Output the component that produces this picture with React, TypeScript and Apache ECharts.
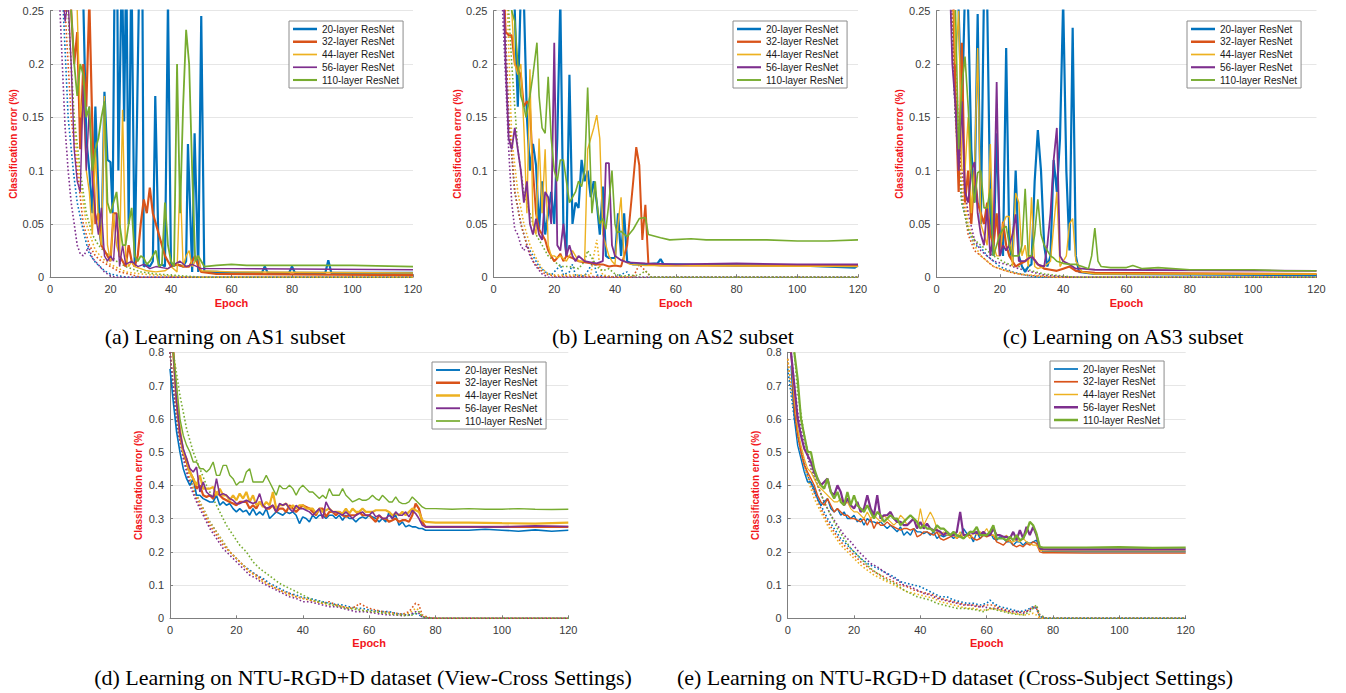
import React, { useEffect, useRef } from "react";
import * as echarts from "echarts";

type P = [number, number][];

const COLORS = ["#0072BD", "#D95319", "#EDB120", "#7E2F8E", "#77AC30"];
const LAYERS = ["20-layer ResNet", "32-layer ResNet", "44-layer ResNet", "56-layer ResNet", "110-layer ResNet"];
const X_TICKS = [0, 20, 40, 60, 80, 100, 120];

// ---------- (a) AS1 ----------
const aTest20: P = [[0,0.6],[5,0.45],[8,0.3],[10,0.28],[11,0.26],[12,0.13],[13,0.1],[14,0.06],[15,0.16],[15.5,0.12],[16.5,0.04],[17,0.03],[18,0.174],[19,0.11],[20,0.108],[20.7,0.06],[21.4,0.3],[22,0.4],[22.6,0.1],[23.8,0.3],[24.5,0.146],[25.2,0.3],[26,0.05],[26.9,0.3],[28,0.01],[29.6,0.3],[30.5,0.3],[31,0.01],[32,0.012],[33,0.01],[34,0.015],[34.8,0.17],[36,0.01],[37,0.012],[38,0.01],[39,0.26],[40,0.01],[42,0.012],[44,0.01],[45,0.015],[45.6,0.125],[47,0.005],[47.8,0.135],[49,0.005],[50,0.245],[51,0.005],[55,0.005],[60,0.004],[70,0.004],[71,0.01],[72,0.004],[79,0.004],[80,0.01],[81,0.004],[91,0.004],[92,0.016],[93,0.004],[100,0.004],[110,0.004],[120,0.004]];
const aTest32: P = [[0,0.6],[5,0.35],[7,0.25],[8,0.2],[9,0.23],[10,0.12],[11,0.2],[12,0.16],[13,0.26],[14,0.14],[15,0.05],[16,0.06],[17,0.03],[18,0.025],[19,0.02],[20,0.015],[21,0.06],[22,0.06],[23,0.02],[24,0.015],[25,0.01],[26,0.03],[27,0.015],[28,0.01],[29,0.02],[30,0.05],[31,0.073],[32,0.06],[33,0.084],[34,0.06],[35,0.05],[36,0.04],[37,0.03],[38,0.02],[39,0.015],[40,0.01],[42,0.012],[44,0.01],[46,0.01],[48,0.02],[49,0.01],[50,0.005],[55,0.003],[120,0.002]];
const aTest44: P = [[0,0.6],[6,0.3],[7,0.25],[8,0.3],[9,0.25],[10,0.15],[11,0.17],[12,0.1],[13,0.08],[14,0.04],[15,0.12],[16,0.05],[17,0.03],[18,0.17],[19,0.03],[20,0.015],[21,0.06],[22,0.03],[23,0.02],[24,0.157],[25,0.02],[26,0.01],[27,0.015],[28,0.01],[30,0.008],[32,0.006],[35,0.005],[38,0.006],[40,0.01],[42,0.005],[43,0.095],[44,0.01],[45,0.02],[46,0.025],[47,0.01],[49,0.02],[50,0.006],[60,0.005],[120,0.004]];
const aTest56: P = [[0,0.6],[4,0.27],[5,0.24],[6,0.26],[7,0.2],[8,0.12],[9,0.09],[10,0.08],[11,0.18],[12,0.1],[13,0.16],[14,0.09],[15,0.06],[16,0.04],[17,0.065],[18,0.02],[19,0.015],[20,0.02],[21,0.015],[22,0.06],[23,0.01],[24,0.03],[25,0.012],[27,0.015],[29,0.01],[31,0.012],[33,0.008],[35,0.01],[37,0.009],[39,0.008],[41,0.012],[43,0.015],[45,0.01],[47,0.012],[50,0.008],[60,0.008],[120,0.007]];
const aTest110: P = [[0,0.6],[6,0.3],[8,0.2],[9,0.17],[10,0.2],[11,0.19],[12,0.15],[13,0.16],[14,0.1],[15,0.12],[16,0.13],[17,0.15],[18,0.165],[19,0.07],[20,0.06],[21,0.07],[22,0.08],[23,0.05],[24,0.03],[25,0.03],[26,0.05],[27,0.065],[28,0.02],[29,0.015],[30,0.02],[31,0.018],[32,0.012],[33,0.015],[34,0.02],[35,0.025],[36,0.01],[37,0.012],[38,0.07],[39,0.03],[40,0.015],[41,0.01],[42,0.2],[43,0.06],[44,0.16],[45,0.232],[46,0.2],[47,0.1],[48,0.015],[49,0.02],[50,0.015],[51,0.01],[55,0.011],[60,0.012],[65,0.011],[70,0.011],[80,0.011],[100,0.011],[120,0.01]];
const aTrain20: P = [[3,0.5],[4.4,0.25],[6,0.15],[7.7,0.1],[9,0.07],[10.5,0.05],[12,0.032],[13,0.022],[15,0.014],[16.5,0.01],[18,0.006],[20,0.003],[25,0],[120,0]];
const aTrain32: P = [[3,0.5],[5,0.25],[7,0.15],[9,0.1],[11,0.05],[13,0.03],[15,0.02],[17,0.015],[20,0.01],[23,0.005],[26,0.003],[30,0],[120,0]];
const aTrain44: P = [[4,0.5],[6,0.25],[8,0.14],[9.5,0.1],[12,0.05],[15,0.025],[18,0.016],[20,0.012],[25,0.005],[30,0.003],[35,0.002],[45,0],[120,0]];
const aTrain56: P = [[2,0.5],[3.3,0.25],[5,0.14],[6,0.1],[7,0.07],[8,0.05],[9,0.03],[10,0.022],[11,0.02],[12,0.024],[12.7,0.029],[14,0.018],[16.5,0.01],[18,0.005],[20,0.001],[22,0],[120,0]];
const aTrain110: P = [[4,0.5],[6,0.25],[8,0.15],[10,0.1],[12,0.06],[14,0.04],[16,0.03],[18,0.024],[20,0.02],[22,0.015],[25,0.01],[30,0.005],[35,0.003],[40,0.002],[50,0],[120,0]];

// ---------- (b) AS2 ----------
const bTest20: P = [[0,0.6],[5,0.35],[7,0.25],[8,0.16],[9,0.27],[10,0.26],[11,0.15],[12,0.1],[13,0.125],[14,0.105],[15,0.045],[16,0.09],[17,0.04],[18,0.06],[19,0.08],[20,0.05],[21,0.13],[22,0.26],[23,0.05],[24,0.02],[25,0.19],[26,0.05],[27,0.07],[28,0.065],[29,0.11],[30,0.09],[31,0.1],[32,0.075],[33,0.09],[34,0.07],[35,0.04],[36,0.085],[37,0.02],[38,0.018],[40,0.018],[41,0.06],[42,0.02],[43,0.06],[44,0.015],[46,0.012],[50,0.012],[54,0.013],[55,0.017],[56,0.012],[60,0.012],[80,0.011],[100,0.011],[119,0.009],[120,0.011]];
const bTest32: P = [[0,0.6],[3,0.3],[4,0.23],[5,0.227],[6,0.227],[7,0.2],[8,0.195],[9,0.19],[10,0.16],[11,0.165],[12,0.16],[13,0.1],[14,0.06],[15,0.045],[16,0.04],[17,0.035],[18,0.025],[19,0.02],[20,0.015],[21,0.018],[22,0.022],[23,0.015],[24,0.02],[26,0.018],[28,0.015],[30,0.014],[32,0.013],[34,0.012],[36,0.012],[38,0.01],[40,0.011],[42,0.01],[44,0.03],[45,0.06],[46,0.09],[47,0.122],[48,0.105],[49,0.035],[50,0.068],[51,0.012],[55,0.011],[120,0.011]];
const bTest44: P = [[0,0.6],[4,0.3],[6,0.25],[7,0.2],[8,0.19],[9,0.2],[10,0.14],[11,0.06],[12,0.195],[13,0.05],[14,0.04],[15,0.13],[16,0.06],[17,0.12],[18,0.03],[19,0.02],[20,0.02],[21,0.018],[22,0.02],[24,0.015],[26,0.025],[28,0.015],[30,0.015],[31,0.12],[32,0.13],[33,0.14],[34,0.152],[35,0.13],[36,0.04],[37,0.03],[38,0.02],[39,0.015],[40,0.012],[41,0.05],[42,0.075],[43,0.015],[45,0.012],[50,0.011],[60,0.011],[120,0.01]];
const bTest56: P = [[0,0.6],[3,0.3],[4,0.2],[5,0.13],[6,0.12],[7,0.14],[8,0.12],[9,0.1],[10,0.07],[11,0.09],[12,0.05],[13,0.04],[14,0.055],[15,0.04],[16,0.035],[17,0.08],[18,0.075],[19,0.05],[20,0.22],[21,0.03],[22,0.025],[23,0.05],[24,0.02],[25,0.03],[26,0.02],[27,0.015],[28,0.02],[30,0.015],[32,0.014],[34,0.013],[36,0.015],[37,0.107],[38,0.107],[39,0.03],[40,0.02],[42,0.016],[44,0.014],[50,0.013],[60,0.012],[80,0.013],[100,0.012],[120,0.012]];
const bTest110: P = [[0,0.6],[5,0.3],[6,0.25],[7,0.24],[8,0.2],[9,0.17],[10,0.16],[10.7,0.15],[12,0.17],[13,0.19],[14.3,0.22],[15,0.17],[16,0.14],[17,0.135],[18,0.188],[19,0.13],[20,0.1],[21,0.09],[22,0.11],[23,0.11],[24,0.09],[25,0.07],[26,0.075],[27,0.08],[28,0.09],[29,0.085],[30,0.1],[31,0.178],[32.4,0.06],[33.5,0.09],[34,0.07],[35,0.05],[36,0.055],[37,0.045],[38,0.07],[39,0.1],[40,0.05],[40.6,0.042],[42,0.043],[44,0.038],[46,0.045],[48,0.055],[50,0.056],[51,0.04],[55,0.037],[58,0.035],[65,0.036],[70,0.035],[80,0.035],[90,0.035],[100,0.034],[110,0.034],[120,0.035]];
const bTrain20: P = [[0,0.6],[3,0.3],[5,0.15],[7,0.08],[9,0.05],[11,0.03],[13,0.02],[15,0.01],[17,0.005],[19,0.002],[21,0.008],[22,0.012],[23,0.002],[25,0.005],[26,0.012],[27,0.002],[30,0.001],[33,0.015],[34,0.002],[40,0],[44,0.005],[45,0],[120,0]];
const bTrain32: P = [[0,0.6],[3,0.3],[5,0.15],[7,0.08],[9,0.05],[11,0.03],[13,0.015],[15,0.008],[17,0.003],[20,0.001],[46,0],[48,0.012],[50,0.006],[52,0],[120,0]];
const bTrain44: P = [[0,0.6],[4,0.3],[6,0.13],[8,0.08],[10,0.05],[12,0.03],[14,0.018],[16,0.008],[18,0.003],[20,0.002],[32,0.002],[33,0.02],[34,0.035],[35,0.01],[36,0.002],[40,0],[120,0]];
const bTrain56: P = [[0,0.6],[3,0.25],[5,0.12],[6,0.07],[7,0.045],[8,0.04],[9,0.03],[10,0.025],[11,0.03],[12,0.02],[14,0.01],[16,0.003],[18,0],[120,0]];
const bTrain110: P = [[0,0.6],[4,0.3],[6,0.2],[8,0.12],[10,0.08],[12,0.06],[14,0.04],[16,0.03],[18,0.02],[20,0.015],[22,0.01],[25,0.01],[28,0.008],[30,0.015],[31,0.025],[32,0.02],[34,0.01],[36,0.006],[38,0.008],[40,0.003],[42,0.001],[48,0.002],[50,0.006],[52,0],[120,0]];

// ---------- (c) AS3 ----------
const cTest20: P = [[0,0.6],[6,0.3],[7,0.25],[8,0.15],[9,0.27],[10,0.25],[11,0.12],[12,0.07],[13,0.247],[14,0.05],[15,0.27],[16,0.26],[17,0.06],[18,0.02],[19,0.135],[20,0.04],[21,0.02],[22,0.215],[23,0.03],[24,0.015],[25,0.1],[26,0.02],[27,0.01],[28,0.005],[29,0.01],[30,0.012],[31,0.09],[32,0.138],[33,0.1],[34,0.03],[35,0.01],[36,0.02],[37,0.11],[38,0.08],[39,0.13],[40,0.26],[41,0.1],[42,0.025],[43,0.234],[44,0.02],[45,0.005],[50,0.003],[120,0.002]];
const cTest32: P = [[0,0.6],[5,0.3],[6,0.17],[7,0.08],[8,0.22],[9,0.07],[10,0.1],[11,0.05],[12,0.1],[13,0.07],[14,0.06],[15,0.05],[16,0.07],[17,0.04],[18,0.03],[19,0.06],[20,0.02],[21,0.052],[22,0.03],[23,0.02],[24,0.015],[25,0.01],[26,0.012],[28,0.015],[30,0.02],[32,0.012],[34,0.008],[36,0.007],[38,0.006],[40,0.008],[42,0.01],[44,0.006],[46,0.005],[50,0.004],[120,0.003]];
const cTest44: P = [[0,0.6],[5,0.3],[6,0.2],[7,0.25],[8,0.1],[9,0.1],[10,0.15],[11,0.06],[12,0.1],[13,0.215],[14,0.05],[15,0.04],[16,0.03],[17,0.125],[18,0.03],[19,0.02],[20,0.02],[21,0.05],[22,0.057],[23,0.057],[24,0.01],[25,0.079],[26,0.07],[27,0.02],[28,0.03],[29,0.01],[30,0.075],[31,0.01],[32,0.008],[34,0.01],[36,0.015],[38,0.08],[39,0.01],[41,0.02],[42,0.05],[43,0.055],[44,0.015],[46,0.005],[50,0.003],[120,0.003]];
const cTest56: P = [[0,0.6],[4,0.3],[5,0.2],[6,0.16],[7,0.1],[8,0.165],[9,0.08],[10,0.07],[11,0.1],[12,0.108],[13,0.06],[14,0.04],[15,0.03],[16,0.065],[17,0.02],[18,0.04],[19,0.183],[20,0.02],[21,0.03],[22,0.025],[23,0.03],[24,0.04],[25,0.059],[26,0.015],[28,0.015],[30,0.02],[32,0.012],[34,0.01],[35,0.03],[36,0.06],[37,0.11],[38,0.14],[39,0.02],[40,0.015],[42,0.012],[44,0.008],[46,0.008],[50,0.007],[120,0.006]];
const cTest110: P = [[0,0.6],[5,0.3],[6,0.25],[7,0.12],[8,0.18],[9,0.207],[10,0.16],[11,0.1],[12,0.07],[13,0.098],[14,0.1],[15,0.065],[16,0.065],[17,0.083],[18,0.02],[19,0.03],[20,0.04],[21,0.045],[22,0.048],[23,0.03],[24,0.02],[25,0.02],[26,0.02],[27,0.03],[28,0.083],[29,0.02],[30,0.02],[31,0.04],[32,0.073],[33,0.04],[34,0.03],[35,0.025],[36,0.02],[37,0.018],[38,0.015],[40,0.013],[42,0.012],[44,0.012],[46,0.01],[48,0.008],[49,0.02],[50,0.046],[51,0.015],[52,0.01],[55,0.009],[60,0.009],[62,0.011],[65,0.008],[70,0.009],[80,0.007],[90,0.007],[100,0.007],[110,0.006],[120,0.006]];
const cTrain20: P = [[0,0.6],[4,0.3],[5,0.22],[6,0.15],[7,0.1],[8,0.07],[10,0.045],[12,0.03],[14,0.028],[16,0.02],[18,0.015],[20,0.01],[24,0.005],[28,0.002],[32,0],[120,0]];
const cTrain32: P = [[0,0.6],[4,0.3],[6,0.18],[8,0.08],[10,0.04],[12,0.025],[14,0.02],[16,0.015],[18,0.01],[20,0.008],[24,0.004],[28,0.002],[32,0.001],[36,0],[120,0]];
const cTrain44: P = [[0,0.6],[4,0.3],[6,0.2],[8,0.09],[10,0.05],[12,0.03],[14,0.02],[16,0.015],[18,0.01],[22,0.006],[26,0.003],[30,0.002],[34,0.001],[38,0],[120,0]];
const cTrain56: P = [[0,0.6],[4,0.3],[6,0.15],[8,0.1],[10,0.06],[12,0.035],[14,0.025],[16,0.02],[18,0.015],[22,0.012],[26,0.008],[30,0.005],[34,0.002],[38,0.001],[42,0],[120,0]];
const cTrain110: P = [[0,0.6],[4,0.3],[6,0.15],[8,0.07],[10,0.045],[12,0.035],[14,0.03],[16,0.025],[18,0.02],[22,0.013],[26,0.01],[30,0.006],[34,0.003],[40,0.001],[44,0],[120,0]];

// ---------- (d) NTU View-Cross ----------
const dTest20: P = [[0,0.75],[1,0.65],[2,0.56],[3,0.5],[4,0.45],[5,0.42],[6,0.4],[7,0.42],[8,0.37],[9,0.37],[10,0.36],[11,0.355],[12,0.35],[13,0.35],[14,0.37],[15,0.34],[16,0.35],[17,0.34],[18,0.345],[19,0.33],[20,0.32],[21,0.33],[22,0.32],[23,0.325],[24,0.31],[25,0.33],[26,0.31],[27,0.32],[28,0.31],[29,0.33],[30,0.3],[31,0.31],[32,0.32],[33,0.315],[34,0.31],[35,0.32],[36,0.315],[37,0.32],[38,0.31],[39,0.285],[40,0.305],[41,0.3],[42,0.29],[43,0.31],[44,0.3],[45,0.31],[46,0.31],[47,0.3],[48,0.31],[49,0.31],[50,0.3],[51,0.31],[52,0.295],[53,0.31],[54,0.3],[55,0.3],[56,0.29],[57,0.3],[58,0.305],[59,0.3],[60,0.31],[61,0.305],[62,0.3],[63,0.29],[64,0.3],[65,0.29],[66,0.32],[67,0.3],[68,0.31],[69,0.28],[70,0.29],[71,0.275],[72,0.28],[73,0.275],[74,0.275],[75,0.27],[76,0.27],[77,0.265],[80,0.265],[85,0.265],[90,0.265],[95,0.268],[100,0.265],[105,0.262],[110,0.266],[115,0.262],[120,0.265]];
const dTest32: P = [[1,0.8],[2,0.65],[3,0.55],[4,0.5],[5,0.47],[6,0.44],[7,0.42],[8,0.39],[9,0.4],[10,0.37],[11,0.365],[12,0.37],[13,0.36],[14,0.38],[15,0.37],[16,0.36],[17,0.355],[18,0.35],[19,0.345],[20,0.34],[21,0.35],[22,0.35],[23,0.35],[24,0.33],[25,0.34],[26,0.33],[27,0.35],[28,0.34],[29,0.33],[30,0.33],[31,0.34],[32,0.32],[33,0.33],[34,0.33],[35,0.32],[36,0.34],[37,0.33],[38,0.32],[39,0.33],[40,0.34],[41,0.335],[42,0.33],[43,0.32],[44,0.31],[45,0.33],[46,0.33],[47,0.305],[48,0.32],[49,0.32],[50,0.31],[51,0.32],[52,0.31],[53,0.305],[54,0.31],[55,0.31],[56,0.31],[57,0.32],[58,0.31],[59,0.31],[60,0.31],[61,0.3],[62,0.29],[63,0.31],[64,0.3],[65,0.3],[66,0.29],[67,0.295],[68,0.3],[69,0.29],[70,0.295],[71,0.295],[72,0.29],[73,0.31],[74,0.345],[75,0.33],[76,0.29],[77,0.275],[80,0.275],[90,0.275],[100,0.275],[110,0.275],[120,0.275]];
const dTest44: P = [[1,0.8],[2,0.67],[3,0.57],[4,0.5],[5,0.48],[6,0.44],[7,0.42],[8,0.4],[9,0.43],[10,0.39],[11,0.39],[12,0.39],[13,0.395],[14,0.37],[15,0.39],[16,0.37],[17,0.37],[18,0.355],[19,0.37],[20,0.355],[21,0.375],[22,0.36],[23,0.38],[24,0.35],[25,0.37],[26,0.34],[27,0.35],[28,0.335],[29,0.35],[30,0.34],[31,0.38],[32,0.33],[33,0.34],[34,0.34],[35,0.345],[36,0.33],[37,0.34],[38,0.33],[39,0.34],[40,0.34],[41,0.33],[42,0.33],[43,0.33],[44,0.315],[45,0.33],[46,0.32],[47,0.325],[48,0.33],[49,0.32],[50,0.32],[51,0.32],[52,0.315],[53,0.33],[54,0.315],[55,0.33],[56,0.32],[57,0.32],[58,0.33],[59,0.32],[60,0.32],[61,0.32],[62,0.325],[63,0.325],[64,0.325],[65,0.325],[66,0.32],[67,0.31],[68,0.315],[69,0.31],[70,0.32],[71,0.31],[72,0.32],[73,0.33],[74,0.325],[75,0.32],[76,0.295],[77,0.29],[80,0.288],[90,0.288],[100,0.286],[110,0.285],[120,0.288]];
const dTest56: P = [[1,0.8],[2,0.65],[3,0.56],[4,0.51],[5,0.48],[6,0.45],[7,0.44],[8,0.455],[9,0.38],[10,0.41],[11,0.38],[12,0.37],[13,0.365],[14,0.42],[15,0.37],[16,0.375],[17,0.37],[18,0.36],[19,0.355],[20,0.345],[21,0.345],[22,0.35],[23,0.355],[24,0.35],[25,0.345],[26,0.35],[27,0.375],[28,0.34],[29,0.33],[30,0.335],[31,0.34],[32,0.32],[33,0.345],[34,0.34],[35,0.345],[36,0.33],[37,0.32],[38,0.34],[39,0.33],[40,0.33],[41,0.325],[42,0.32],[43,0.31],[44,0.32],[45,0.33],[46,0.3],[47,0.35],[48,0.33],[49,0.32],[50,0.32],[51,0.315],[52,0.31],[53,0.32],[54,0.31],[55,0.3],[56,0.31],[57,0.315],[58,0.32],[59,0.31],[60,0.31],[61,0.32],[62,0.305],[63,0.31],[64,0.3],[65,0.3],[66,0.31],[67,0.3],[68,0.32],[69,0.31],[70,0.31],[71,0.32],[72,0.305],[73,0.325],[74,0.315],[75,0.3],[76,0.28],[77,0.275],[80,0.275],[90,0.275],[100,0.275],[110,0.278],[120,0.276]];
const dTest110: P = [[1,0.8],[2,0.7],[3,0.6],[4,0.55],[5,0.52],[6,0.5],[7,0.47],[8,0.47],[9,0.45],[10,0.45],[11,0.44],[12,0.45],[13,0.47],[14,0.43],[15,0.43],[16,0.46],[17,0.46],[18,0.43],[19,0.42],[20,0.4],[21,0.41],[22,0.41],[23,0.44],[24,0.45],[25,0.41],[26,0.41],[27,0.41],[28,0.41],[29,0.43],[30,0.41],[31,0.39],[32,0.37],[33,0.4],[34,0.39],[35,0.39],[36,0.4],[37,0.39],[38,0.37],[39,0.39],[40,0.4],[41,0.39],[42,0.38],[43,0.38],[44,0.37],[45,0.36],[46,0.37],[47,0.36],[48,0.39],[49,0.37],[50,0.37],[51,0.37],[52,0.39],[53,0.37],[54,0.36],[55,0.35],[56,0.355],[57,0.36],[58,0.355],[59,0.355],[60,0.36],[61,0.37],[62,0.36],[63,0.355],[64,0.37],[65,0.36],[66,0.35],[67,0.35],[68,0.365],[69,0.35],[70,0.345],[71,0.345],[72,0.35],[73,0.365],[74,0.355],[75,0.345],[76,0.335],[77,0.33],[80,0.33],[85,0.328],[90,0.33],[95,0.328],[100,0.328],[105,0.33],[110,0.328],[115,0.327],[120,0.328]];
const dTrain20: P = [[0,0.8],[2,0.6],[4,0.5],[6,0.42],[8,0.37],[10,0.33],[12,0.29],[14,0.26],[16,0.23],[18,0.2],[20,0.18],[22,0.16],[24,0.145],[26,0.13],[28,0.12],[30,0.105],[32,0.095],[34,0.085],[36,0.075],[38,0.07],[40,0.062],[42,0.06],[44,0.055],[46,0.05],[48,0.045],[50,0.042],[52,0.04],[54,0.035],[56,0.03],[58,0.03],[60,0.025],[62,0.022],[64,0.02],[66,0.02],[68,0.015],[70,0.012],[72,0.01],[74,0.015],[76,0.005],[78,0.001],[80,0],[120,0]];
const dTrain32: P = [[0,0.8],[2,0.6],[4,0.49],[6,0.41],[8,0.36],[10,0.32],[12,0.28],[14,0.25],[16,0.22],[18,0.2],[20,0.18],[22,0.16],[24,0.14],[26,0.13],[28,0.115],[30,0.1],[32,0.09],[34,0.08],[36,0.075],[38,0.065],[40,0.06],[42,0.055],[44,0.05],[46,0.045],[48,0.05],[50,0.04],[52,0.035],[54,0.03],[56,0.035],[57,0.045],[58,0.04],[60,0.03],[62,0.025],[64,0.02],[66,0.018],[68,0.015],[70,0.012],[72,0.02],[74,0.045],[75,0.04],[76,0.01],[78,0.002],[80,0],[120,0]];
const dTrain44: P = [[0,0.8],[2,0.6],[4,0.5],[6,0.42],[8,0.37],[10,0.33],[12,0.29],[14,0.26],[16,0.23],[18,0.2],[20,0.18],[22,0.16],[24,0.14],[26,0.125],[28,0.11],[30,0.1],[32,0.09],[34,0.08],[36,0.07],[38,0.065],[40,0.06],[42,0.055],[44,0.05],[46,0.045],[48,0.04],[50,0.04],[52,0.035],[54,0.03],[56,0.03],[58,0.025],[60,0.02],[62,0.02],[64,0.015],[66,0.015],[68,0.012],[70,0.01],[72,0.015],[74,0.03],[75,0.025],[76,0.005],[78,0],[120,0]];
const dTrain56: P = [[0,0.8],[2,0.58],[4,0.48],[6,0.4],[8,0.35],[10,0.31],[12,0.27],[14,0.24],[16,0.21],[18,0.19],[20,0.17],[22,0.15],[24,0.13],[26,0.12],[28,0.105],[30,0.095],[32,0.085],[34,0.075],[36,0.065],[38,0.06],[40,0.05],[42,0.05],[44,0.045],[46,0.04],[48,0.035],[50,0.035],[52,0.03],[54,0.025],[56,0.02],[58,0.02],[60,0.018],[62,0.015],[64,0.012],[66,0.01],[68,0.01],[70,0.008],[72,0.01],[74,0.02],[75,0.015],[76,0.003],[78,0],[120,0]];
const dTrain110: P = [[1,0.8],[3,0.67],[5,0.57],[7,0.5],[9,0.45],[11,0.4],[13,0.36],[15,0.32],[17,0.28],[19,0.25],[21,0.22],[23,0.2],[25,0.17],[27,0.15],[29,0.135],[31,0.12],[33,0.105],[35,0.095],[37,0.085],[39,0.075],[41,0.065],[43,0.055],[45,0.05],[47,0.045],[49,0.04],[51,0.035],[53,0.03],[55,0.028],[57,0.025],[59,0.022],[61,0.02],[63,0.018],[65,0.015],[67,0.012],[69,0.01],[71,0.008],[73,0.01],[75,0.02],[76,0.005],[78,0],[120,0]];

// ---------- (e) NTU Cross-Subject ----------
const eTest20: P = [[1,0.76],[2,0.6],[3,0.52],[4,0.48],[5,0.44],[6,0.41],[7,0.41],[8,0.39],[9,0.36],[10,0.34],[11,0.35],[12,0.36],[13,0.33],[14,0.32],[15,0.33],[16,0.31],[17,0.32],[18,0.3],[19,0.3],[20,0.31],[21,0.29],[22,0.3],[23,0.28],[24,0.3],[25,0.29],[26,0.29],[27,0.285],[28,0.29],[29,0.28],[30,0.27],[31,0.28],[32,0.27],[33,0.26],[34,0.275],[35,0.25],[36,0.26],[37,0.25],[38,0.27],[39,0.26],[40,0.26],[41,0.255],[42,0.26],[43,0.25],[44,0.26],[45,0.24],[46,0.25],[47,0.245],[48,0.25],[49,0.25],[50,0.24],[51,0.25],[52,0.245],[53,0.27],[54,0.255],[55,0.25],[56,0.23],[57,0.26],[58,0.24],[59,0.25],[60,0.25],[61,0.26],[62,0.24],[63,0.235],[64,0.245],[65,0.24],[66,0.23],[67,0.23],[68,0.22],[69,0.23],[70,0.23],[71,0.22],[72,0.23],[73,0.225],[74,0.23],[75,0.235],[76,0.21],[77,0.2],[80,0.2],[90,0.2],[100,0.2],[110,0.2],[120,0.2]];
const eTest32: P = [[1,0.8],[2,0.63],[3,0.55],[4,0.5],[5,0.46],[6,0.44],[7,0.42],[8,0.4],[9,0.37],[10,0.35],[11,0.34],[12,0.36],[13,0.34],[14,0.32],[15,0.33],[16,0.32],[17,0.31],[18,0.31],[19,0.3],[20,0.3],[21,0.295],[22,0.29],[23,0.3],[24,0.28],[25,0.3],[26,0.27],[27,0.29],[28,0.28],[29,0.28],[30,0.29],[31,0.28],[32,0.275],[33,0.27],[34,0.265],[35,0.27],[36,0.27],[37,0.265],[38,0.27],[39,0.245],[40,0.25],[41,0.26],[42,0.26],[43,0.255],[44,0.25],[45,0.26],[46,0.24],[47,0.235],[48,0.24],[49,0.245],[50,0.25],[51,0.24],[52,0.25],[53,0.24],[54,0.25],[55,0.25],[56,0.24],[57,0.235],[58,0.24],[59,0.25],[60,0.245],[61,0.25],[62,0.25],[63,0.23],[64,0.225],[65,0.22],[66,0.23],[67,0.235],[68,0.22],[69,0.215],[70,0.22],[71,0.215],[72,0.225],[73,0.22],[74,0.23],[75,0.225],[76,0.2],[77,0.197],[80,0.197],[90,0.196],[100,0.196],[110,0.196],[120,0.196]];
const eTest44: P = [[1,0.8],[2,0.66],[3,0.57],[4,0.52],[5,0.48],[6,0.45],[7,0.44],[8,0.42],[9,0.4],[10,0.39],[11,0.38],[12,0.37],[13,0.36],[14,0.35],[15,0.35],[16,0.36],[17,0.34],[18,0.35],[19,0.33],[20,0.32],[21,0.32],[22,0.31],[23,0.3],[24,0.32],[25,0.3],[26,0.31],[27,0.3],[28,0.29],[29,0.31],[30,0.3],[31,0.29],[32,0.28],[33,0.29],[34,0.31],[35,0.3],[36,0.28],[37,0.29],[38,0.3],[39,0.27],[40,0.33],[41,0.28],[42,0.3],[43,0.32],[44,0.3],[45,0.27],[46,0.25],[47,0.26],[48,0.25],[49,0.25],[50,0.25],[51,0.24],[52,0.26],[53,0.24],[54,0.25],[55,0.24],[56,0.26],[57,0.25],[58,0.26],[59,0.255],[60,0.27],[61,0.25],[62,0.25],[63,0.24],[64,0.24],[65,0.24],[66,0.25],[67,0.23],[68,0.23],[69,0.235],[70,0.23],[71,0.24],[72,0.23],[73,0.225],[74,0.22],[75,0.22],[76,0.205],[77,0.203],[80,0.203],[90,0.203],[100,0.203],[110,0.203],[120,0.203]];
const eTest56: P = [[1,0.8],[2,0.7],[3,0.6],[4,0.55],[5,0.51],[6,0.49],[7,0.47],[8,0.44],[9,0.42],[10,0.4],[11,0.41],[12,0.42],[13,0.38],[14,0.37],[15,0.4],[16,0.38],[17,0.34],[18,0.36],[19,0.34],[20,0.33],[21,0.35],[22,0.32],[23,0.33],[24,0.37],[25,0.33],[26,0.31],[27,0.37],[28,0.3],[29,0.31],[30,0.31],[31,0.32],[32,0.3],[33,0.29],[34,0.29],[35,0.28],[36,0.28],[37,0.29],[38,0.3],[39,0.27],[40,0.29],[41,0.27],[42,0.285],[43,0.27],[44,0.265],[45,0.265],[46,0.26],[47,0.25],[48,0.26],[49,0.25],[50,0.25],[51,0.26],[52,0.32],[53,0.25],[54,0.25],[55,0.26],[56,0.255],[57,0.26],[58,0.25],[59,0.26],[60,0.25],[61,0.25],[62,0.27],[63,0.25],[64,0.25],[65,0.245],[66,0.245],[67,0.24],[68,0.26],[69,0.235],[70,0.265],[71,0.24],[72,0.275],[73,0.25],[74,0.275],[75,0.25],[76,0.21],[77,0.208],[80,0.207],[90,0.207],[100,0.207],[110,0.207],[120,0.207]];
const eTest110: P = [[2,0.8],[3,0.72],[4,0.6],[5,0.55],[6,0.5],[7,0.5],[8,0.45],[9,0.42],[10,0.4],[11,0.39],[12,0.42],[13,0.38],[14,0.36],[15,0.38],[16,0.35],[17,0.34],[18,0.38],[19,0.34],[20,0.37],[21,0.34],[22,0.33],[23,0.32],[24,0.34],[25,0.32],[26,0.3],[27,0.32],[28,0.31],[29,0.29],[30,0.3],[31,0.31],[32,0.3],[33,0.3],[34,0.28],[35,0.29],[36,0.3],[37,0.31],[38,0.3],[39,0.29],[40,0.27],[41,0.28],[42,0.27],[43,0.27],[44,0.26],[45,0.28],[46,0.27],[47,0.27],[48,0.26],[49,0.25],[50,0.26],[51,0.25],[52,0.245],[53,0.24],[54,0.25],[55,0.26],[56,0.26],[57,0.275],[58,0.25],[59,0.25],[60,0.25],[61,0.26],[62,0.28],[63,0.24],[64,0.24],[65,0.24],[66,0.235],[67,0.245],[68,0.235],[69,0.25],[70,0.235],[71,0.24],[72,0.26],[73,0.29],[74,0.28],[75,0.255],[76,0.215],[77,0.213],[80,0.213],[90,0.213],[100,0.214],[110,0.212],[120,0.213]];
const eTrain20: P = [[0,0.75],[2,0.6],[4,0.5],[6,0.43],[8,0.38],[10,0.34],[12,0.3],[14,0.27],[16,0.24],[18,0.22],[20,0.2],[22,0.18],[24,0.165],[26,0.155],[28,0.145],[30,0.135],[32,0.125],[34,0.11],[36,0.105],[38,0.1],[40,0.095],[42,0.085],[44,0.075],[46,0.065],[48,0.065],[50,0.055],[52,0.05],[54,0.045],[56,0.045],[58,0.04],[60,0.045],[61,0.055],[62,0.045],[64,0.035],[66,0.03],[68,0.025],[70,0.02],[72,0.025],[74,0.035],[75,0.03],[76,0.005],[78,0],[120,0]];
const eTrain32: P = [[0,0.78],[2,0.62],[4,0.51],[6,0.43],[8,0.38],[10,0.33],[12,0.29],[14,0.26],[16,0.23],[18,0.21],[20,0.19],[22,0.17],[24,0.155],[26,0.14],[28,0.13],[30,0.12],[32,0.11],[34,0.1],[36,0.095],[38,0.085],[40,0.08],[42,0.075],[44,0.07],[46,0.06],[48,0.055],[50,0.05],[52,0.045],[54,0.04],[56,0.04],[58,0.035],[60,0.04],[62,0.04],[64,0.03],[66,0.025],[68,0.02],[70,0.018],[72,0.02],[74,0.035],[75,0.03],[76,0.005],[78,0],[120,0]];
const eTrain44: P = [[0,0.78],[2,0.62],[4,0.5],[6,0.42],[8,0.36],[10,0.32],[12,0.28],[14,0.25],[16,0.22],[18,0.2],[20,0.18],[22,0.16],[24,0.145],[26,0.13],[28,0.12],[30,0.11],[32,0.1],[34,0.09],[36,0.08],[38,0.075],[40,0.07],[42,0.065],[44,0.06],[46,0.05],[48,0.045],[50,0.04],[52,0.035],[54,0.03],[56,0.03],[58,0.025],[60,0.025],[62,0.03],[64,0.025],[66,0.02],[68,0.015],[70,0.012],[72,0.01],[74,0.015],[75,0.01],[76,0],[120,0]];
const eTrain56: P = [[1,0.8],[3,0.62],[5,0.52],[7,0.45],[9,0.4],[11,0.35],[13,0.31],[15,0.28],[17,0.25],[19,0.23],[21,0.205],[23,0.185],[25,0.165],[27,0.155],[29,0.14],[31,0.125],[33,0.115],[35,0.1],[37,0.095],[39,0.085],[41,0.075],[43,0.07],[45,0.06],[47,0.055],[49,0.05],[51,0.045],[53,0.04],[55,0.04],[57,0.035],[59,0.035],[61,0.03],[63,0.03],[65,0.025],[67,0.02],[69,0.02],[71,0.015],[73,0.025],[75,0.035],[76,0.01],[78,0],[120,0]];
const eTrain110: P = [[2,0.8],[3,0.68],[5,0.55],[7,0.46],[9,0.4],[11,0.35],[13,0.31],[15,0.27],[17,0.24],[19,0.21],[21,0.19],[23,0.17],[25,0.15],[27,0.135],[29,0.12],[31,0.11],[33,0.1],[35,0.085],[37,0.075],[39,0.065],[41,0.06],[43,0.055],[45,0.045],[47,0.04],[49,0.035],[51,0.03],[53,0.03],[55,0.028],[57,0.025],[59,0.02],[61,0.03],[63,0.025],[65,0.02],[67,0.015],[69,0.012],[71,0.01],[73,0.02],[75,0.04],[76,0.01],[78,0],[120,0]];

const CAPTIONS = [
  "(a) Learning on AS1 subset",
  "(b) Learning on AS2 subset",
  "(c) Learning on AS3 subset",
  "(d) Learning on NTU-RGD+D dataset (View-Cross Settings)",
  "(e) Learning on NTU-RGD+D dataset (Cross-Subject Settings)",
];

interface Panel {
  key: string;
  test: P[];
  train: P[];
  yMax: number;
  yInterval: number;
  grid: { left: number; top: number; width: number; height: number };
  yGap: number;
  xGap: number;
  legend: { left: number; top: number };
  widths: number[];
  caption: { x: number; y: number };
}

const PANELS: Panel[] = [
  {
    key: "a", test: [aTest20, aTest32, aTest44, aTest56, aTest110], train: [aTrain20, aTrain32, aTrain44, aTrain56, aTrain110],
    yMax: 0.25, yInterval: 0.05, grid: { left: 50, top: 10.7, width: 363, height: 266.5 }, yGap: 32, xGap: 20,
    legend: { left: 289, top: 21 }, widths: [2.2, 2.2, 1.4, 1.4, 1.8], caption: { x: 225, y: 336 },
  },
  {
    key: "b", test: [bTest20, bTest32, bTest44, bTest56, bTest110], train: [bTrain20, bTrain32, bTrain44, bTrain56, bTrain110],
    yMax: 0.25, yInterval: 0.05, grid: { left: 493.5, top: 10.7, width: 364.5, height: 266.5 }, yGap: 30, xGap: 20,
    legend: { left: 733, top: 21 }, widths: [2.2, 2.0, 1.4, 1.8, 1.6], caption: { x: 673, y: 336 },
  },
  {
    key: "c", test: [cTest20, cTest32, cTest44, cTest56, cTest110], train: [cTrain20, cTrain32, cTrain44, cTrain56, cTrain110],
    yMax: 0.25, yInterval: 0.05, grid: { left: 936.5, top: 10.7, width: 380, height: 266.5 }, yGap: 32, xGap: 20,
    legend: { left: 1187, top: 21 }, widths: [2.2, 2.2, 1.4, 1.8, 1.6], caption: { x: 1123, y: 336 },
  },
  {
    key: "d", test: [dTest20, dTest32, dTest44, dTest56, dTest110], train: [dTrain20, dTrain32, dTrain44, dTrain56, dTrain110],
    yMax: 0.8, yInterval: 0.1, grid: { left: 170, top: 352.3, width: 398.3, height: 266 }, yGap: 27, xGap: 19,
    legend: { left: 432, top: 362 }, widths: [1.6, 2.2, 2.2, 1.6, 1.4], caption: { x: 363, y: 677 },
  },
  {
    key: "e", test: [eTest20, eTest32, eTest44, eTest56, eTest110], train: [eTrain20, eTrain32, eTrain44, eTrain56, eTrain110],
    yMax: 0.8, yInterval: 0.1, grid: { left: 787.7, top: 352.3, width: 398, height: 266 }, yGap: 27, xGap: 19,
    legend: { left: 1050, top: 361 }, widths: [1.4, 1.4, 1.2, 2.2, 2.2], caption: { x: 955, y: 677 },
  },
];

const AXIS_COLOR = "#7f7f7f";
const LABEL_COLOR = "#3a3a3a";
const RED = "#f2161b";
const SANS = "'Liberation Sans', Arial, Helvetica, sans-serif";

function lineIcon(w: number) {
  return `path://M0,0H24V${w.toFixed(2)}H0Z`;
}

function buildOption() {
  const grids: any[] = [];
  const xAxes: any[] = [];
  const yAxes: any[] = [];
  const series: any[] = [];
  const legends: any[] = [];
  const graphics: any[] = [];

  PANELS.forEach((p, i) => {
    grids.push({ ...p.grid, containLabel: false });
    xAxes.push({
      type: "value", gridIndex: i, min: 0, max: 120, interval: 20,
      name: "Epoch", nameLocation: "middle", nameGap: p.xGap,
      nameTextStyle: { color: RED, fontWeight: "bold", fontSize: 11, fontFamily: SANS },
      axisLine: { show: true, onZero: false, lineStyle: { color: AXIS_COLOR, width: 1 } },
      axisTick: { show: true, inside: true, length: 3, lineStyle: { color: AXIS_COLOR } },
      axisLabel: { color: LABEL_COLOR, fontSize: 11, margin: 6, fontFamily: SANS,
        formatter: (v: number) => (X_TICKS.indexOf(v) >= 0 ? String(v) : "") },
      splitLine: { show: false },
    });
    yAxes.push({
      type: "value", gridIndex: i, min: 0, max: p.yMax, interval: p.yInterval,
      name: "Classification error (%)", nameLocation: "middle", nameGap: p.yGap,
      nameTextStyle: { color: RED, fontWeight: "bold", fontSize: 10, fontFamily: SANS },
      axisLine: { show: true, lineStyle: { color: AXIS_COLOR, width: 1 } },
      axisTick: { show: true, inside: true, length: 3, lineStyle: { color: AXIS_COLOR } },
      axisLabel: { color: LABEL_COLOR, fontSize: 11, margin: 6, fontFamily: SANS },
      splitLine: { show: true, lineStyle: { color: "#e6e6e6", width: 1 } },
    });
    p.train.forEach((d, j) => {
      series.push({
        type: "line", name: `${p.key}-train-${j}`, xAxisIndex: i, yAxisIndex: i,
        data: d, symbol: "none", silent: true, clip: true, z: 2,
        lineStyle: { color: COLORS[j], width: 1.6, type: [1.6, 2.2] },
        itemStyle: { color: COLORS[j] },
      });
    });
    p.test.forEach((d, j) => {
      series.push({
        type: "line", name: `${p.key}|${LAYERS[j]}`, xAxisIndex: i, yAxisIndex: i,
        data: d, symbol: "none", silent: true, clip: true, z: 3,
        lineStyle: { color: COLORS[j], width: p.widths[j] },
        itemStyle: { color: COLORS[j] },
      });
    });
    legends.push({
      data: LAYERS.map((l, j) => ({
        name: `${p.key}|${l}`,
        icon: lineIcon(p.widths[j] + 0.3),
        itemStyle: { color: COLORS[j] },
      })),
      formatter: (n: string) => n.split("|")[1],
      orient: "vertical", left: p.legend.left, top: p.legend.top,
      itemWidth: 24, itemHeight: 10, itemGap: 2.75, symbolKeepAspect: true,
      padding: [3, 4, 3, 4], borderColor: "#8c8c8c", borderWidth: 1, backgroundColor: "#ffffff",
      selectedMode: false,
      textStyle: { fontSize: 10, lineHeight: 10, color: "#1a1a1a", fontFamily: SANS },
    });
    graphics.push({
      type: "text", x: p.caption.x, y: p.caption.y, silent: true,
      style: {
        text: CAPTIONS[i], fontSize: 22, fontFamily: "'Liberation Serif', 'Times New Roman', serif",
        fill: "#000", align: "center", verticalAlign: "middle", textAlign: "center", textVerticalAlign: "middle",
      },
    });
  });

  return {
    animation: false,
    backgroundColor: "#ffffff",
    grid: grids,
    xAxis: xAxes,
    yAxis: yAxes,
    legend: legends,
    series,
    graphic: graphics,
  };
}

export default function App() {
  const ref = useRef<HTMLDivElement | null>(null);
  useEffect(() => {
    if (!ref.current) return;
    const chart = echarts.init(ref.current, null, { renderer: "svg" });
    chart.setOption(buildOption() as any);
    return () => chart.dispose();
  }, []);
  return (
    <div
      ref={ref}
      style={{ position: "absolute", left: 0, top: 0, width: 1346, height: 693, background: "#fff" }}
    />
  );
}
